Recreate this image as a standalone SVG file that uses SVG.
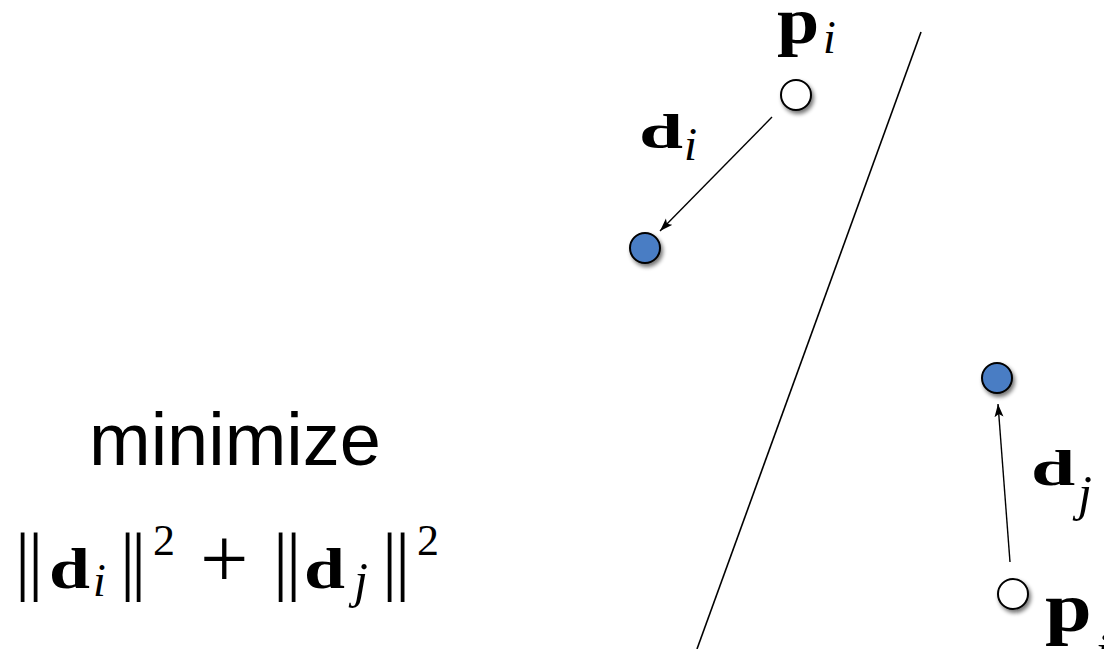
<svg xmlns="http://www.w3.org/2000/svg" width="1104" height="649" viewBox="0 0 1104 649">
<style>
.bold{font-family:"Liberation Serif",serif;font-weight:bold;fill:#000}
.it{font-family:"Liberation Serif",serif;font-style:italic;fill:#000}
.rm{font-family:"Liberation Serif",serif;fill:#000}
.sans{font-family:"Liberation Sans",Arial,sans-serif;fill:#000}
.open{fill:#fff;stroke:#000;stroke-width:2}
.moved{fill:#4a7dc4;stroke:#000;stroke-width:2}
.conn{stroke:#000;stroke-width:1.4;fill:none}
</style>
<defs>
<filter id="sh" x="-50%" y="-50%" width="200%" height="200%">
<feGaussianBlur in="SourceAlpha" stdDeviation="2"/>
<feOffset dx="2" dy="3" result="b"/>
<feComponentTransfer><feFuncA type="linear" slope="0.55"/></feComponentTransfer>
<feMerge><feMergeNode/><feMergeNode in="SourceGraphic"/></feMerge>
</filter>
<marker id="ah" markerUnits="userSpaceOnUse" markerWidth="14" markerHeight="10" viewBox="0 0 14 10" refX="13" refY="5" orient="auto">
<path d="M0,0.5 L13,5 L0,9.5 L3,5 Z" fill="#000"/>
</marker>
</defs>
<rect width="1104" height="649" fill="#fff"/>

<g id="separator">
<line x1="921" y1="32" x2="697" y2="649" stroke="#000" stroke-width="1.6"/>
</g>

<g id="connectors">
<line class="conn" x1="772" y1="117" x2="660" y2="231" marker-end="url(#ah)"/>
<line class="conn" x1="1010" y1="562" x2="998" y2="404" marker-end="url(#ah)"/>
</g>

<g id="node-pi">
<circle class="open" cx="796" cy="95" r="15" filter="url(#sh)"/>
<text class="bold" font-size="66" transform="translate(777,43) scale(1.15,1)">p</text>
<text class="it" font-size="46" x="823" y="53">i</text>
</g>

<g id="node-qi">
<circle class="moved" cx="645" cy="248" r="15" filter="url(#sh)"/>
</g>

<g id="label-di">
<text class="bold" font-size="48" transform="translate(639,148) scale(1.65,1)">d</text>
<text class="it" font-size="47" x="684" y="160">i</text>
</g>

<g id="node-qj">
<circle class="moved" cx="997" cy="378" r="15" filter="url(#sh)"/>
</g>

<g id="label-dj">
<text class="bold" font-size="51" transform="translate(1031,485) scale(1.56,1)">d</text>
<text class="it" font-size="50" x="1078" y="510">j</text>
</g>

<g id="node-pj">
<circle class="open" cx="1013" cy="594" r="15" filter="url(#sh)"/>
<text class="bold" font-size="70" transform="translate(1045,631) scale(1.2,1)">p</text>
<text class="it" font-size="50" x="1095" y="668">j</text>
</g>

<g id="objective">
<text class="sans" font-size="74" x="89" y="465">minimize</text>
<text class="rm" font-size="76" y="586" x="15 28">||</text>
<text class="bold" font-size="58" transform="translate(49,588) scale(1.27,1)">d</text>
<text class="it" font-size="46" x="93" y="596">i</text>
<text class="rm" font-size="76" y="586" x="120 131">||</text>
<text class="rm" font-size="44" x="153" y="555">2</text>
<text class="rm" font-size="86" x="200" y="588">+</text>
<text class="rm" font-size="76" y="586" x="273 286">||</text>
<text class="bold" font-size="58" transform="translate(304,588) scale(1.27,1)">d</text>
<text class="it" font-size="50" x="354" y="597">j</text>
<text class="rm" font-size="76" y="586" x="382 395">||</text>
<text class="rm" font-size="44" x="417" y="555">2</text>
</g>
</svg>
